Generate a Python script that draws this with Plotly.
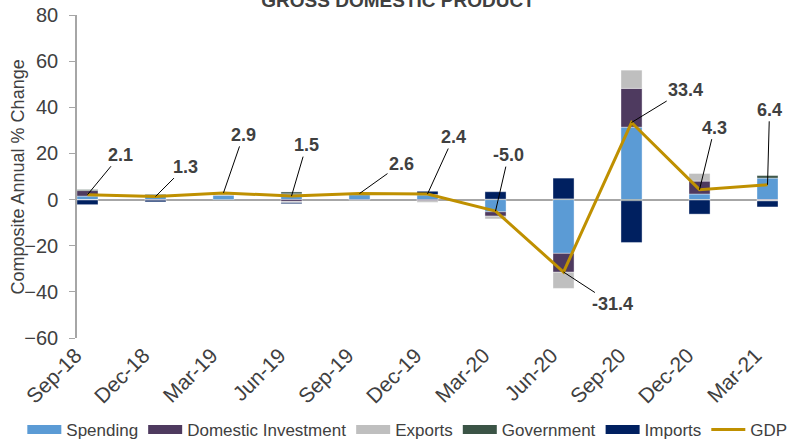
import plotly.graph_objects as go

categories = ["Sep-18", "Dec-18", "Mar-19", "Jun-19", "Sep-19", "Dec-19",
              "Mar-20", "Jun-20", "Sep-20", "Dec-20", "Mar-21"]
spending = [1.5, 1.4, 1.9, 2.5, 2.1, 2.0, -5.3, -23.3, 31.4, 2.4, 9.3]
domestic_investment = [2.4, -0.3, 0.1, -0.8, 0.2, -0.5, -1.9, -8.2, 16.8, 5.6, -0.2]
exports = [-0.2, 0.6, 0.3, -0.5, 0.1, -0.7, -1.2, -7.0, 7.9, 3.3, -0.4]
government = [0.4, 0.3, 0.2, 0.8, 0.4, 0.2, 0.2, 0.3, -0.5, -0.2, 1.1]
imports = [-2.0, -0.7, 0.4, -0.5, -0.2, 1.4, 3.2, 9.0, -18.1, -6.1, -2.6]
gdp = [2.1, 1.3, 2.9, 1.5, 2.6, 2.4, -5.0, -31.4, 33.4, 4.3, 6.4]
gdp_labels = ["2.1", "1.3", "2.9", "1.5", "2.6", "2.4", "-5.0", "-31.4", "33.4", "4.3", "6.4"]
# label offsets (pixels) from point to label centre
label_dx = [33, 30, 20, 15, 42, 26, 13, 49, 54, 15, 2]
label_dy = [-40, -30, -58, -51, -30, -57, -56, 32, -33, -62, -75]

series = [
    ("Spending", spending, "#5B9BD5"),
    ("Domestic Investment", domestic_investment, "#4E3A5F"),
    ("Exports", exports, "#BFBFBF"),
    ("Government", government, "#3B5446"),
    ("Imports", imports, "#002060"),
]

FONT = "Liberation Sans, Arial, sans-serif"
TXT = "#404040"

fig = go.Figure()
for name, vals, col in series:
    fig.add_trace(go.Bar(
        x=categories, y=vals, name=name, showlegend=False,
        marker=dict(color=col, line=dict(color="rgba(255,255,255,0.5)", width=0.75)),
    ))
fig.add_trace(go.Scatter(
    x=categories, y=gdp, name="GDP", mode="lines", showlegend=False,
    line=dict(color="#BF9000", width=3),
))
# legend entries (wide rectangle swatches like the original)
for name, vals, col in series:
    fig.add_trace(go.Scatter(
        x=[None], y=[None], name=name, mode="lines",
        line=dict(color=col, width=9), hoverinfo="skip",
    ))
fig.add_trace(go.Scatter(
    x=[None], y=[None], name="GDP", mode="lines",
    line=dict(color="#BF9000", width=3), hoverinfo="skip",
))

for c, v, t, dx, dy in zip(categories, gdp, gdp_labels, label_dx, label_dy):
    fig.add_annotation(
        x=c, y=v, text="<b>%s</b>" % t, xref="x", yref="y",
        showarrow=True, arrowhead=0, arrowwidth=1, arrowcolor="#000000",
        ax=dx, ay=dy, font=dict(family=FONT, size=18, color=TXT),
    )

# y-axis title
fig.add_annotation(
    text="Composite Annual % Change", xref="paper", yref="paper",
    x=-0.0842, y=0.5, xanchor="center", yanchor="middle", textangle=-90,
    showarrow=False, font=dict(family=FONT, size=18, color=TXT),
)

fig.update_layout(
    width=808, height=444,
    margin=dict(l=77, r=30, t=15, b=106, autoexpand=False),
    barmode="relative", bargap=0.69,
    paper_bgcolor="white", plot_bgcolor="white",
    font=dict(family=FONT, size=17, color=TXT),
    title=dict(text="<b>GROSS DOMESTIC PRODUCT</b>", xref="container", yref="container",
               x=0.4926, y=1.0, xanchor="center", yanchor="middle",
               font=dict(family=FONT, size=19, color=TXT), automargin=False),
    showlegend=True,
    legend=dict(
        orientation="h", xref="paper", yref="paper",
        x=-0.078, y=-0.285, xanchor="left", yanchor="middle",
        traceorder="normal", font=dict(family=FONT, size=17, color=TXT),
        itemwidth=34, tracegroupgap=0, bgcolor="rgba(0,0,0,0)",
    ),
)
fig.update_xaxes(
    type="category", range=[-0.154, 10.154], tickangle=-45,
    showline=False, showgrid=False, zeroline=False, ticks="",
    ticklabelshift=-12, automargin=False,
    tickfont=dict(family=FONT, size=21, color=TXT),
)
fig.update_yaxes(
    range=[-60, 80], dtick=20, tick0=0,
    showline=True, linecolor="#A6A6A6", linewidth=1.5,
    ticks="outside", ticklen=6, tickcolor="#A6A6A6",
    ticklabelstandoff=7, automargin=False,
    showgrid=False, zeroline=True, zerolinecolor="#A6A6A6", zerolinewidth=2,
    layer="above traces",
    tickfont=dict(family=FONT, size=20, color=TXT),
)

fig.write_html("out.html", config={"displayModeBar": False},
               post_script="document.body.style.margin='0px';")
